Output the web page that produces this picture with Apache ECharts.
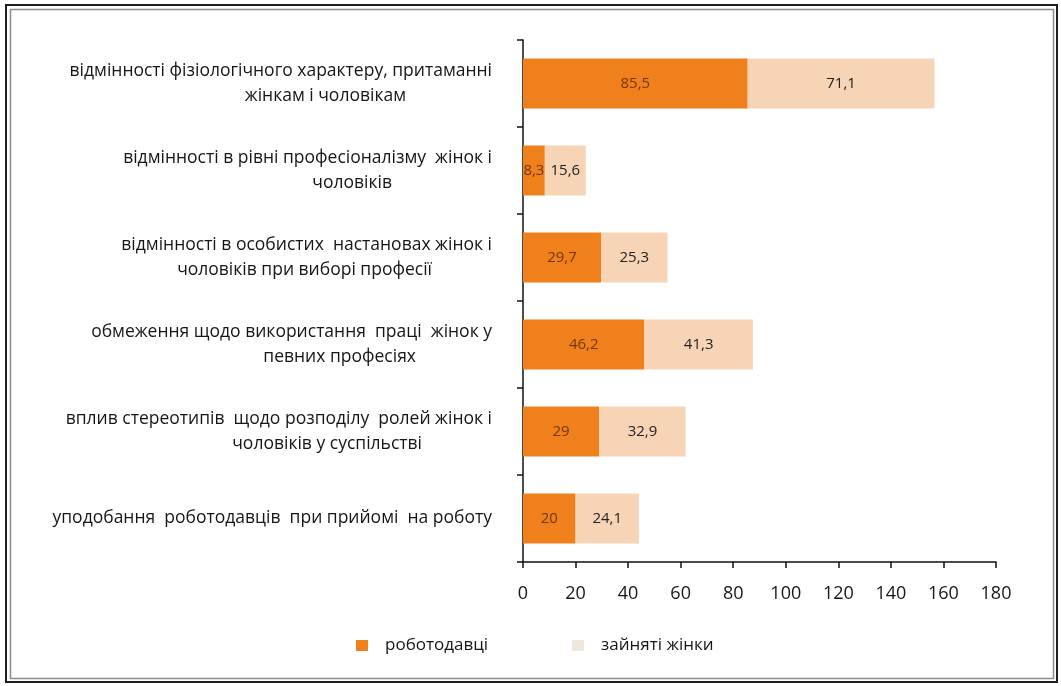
<!DOCTYPE html>
<html>
<head>
<meta charset="utf-8">
<script src="https://cdn.jsdelivr.net/npm/echarts@6/dist/echarts.min.js"></script>
<style>
  html, body { margin: 0; padding: 0; background: #fff; }
  #chart { width: 1061px; height: 686px; }
</style>
</head>
<body>
<div id="chart"></div>
<script>
// Причини гендерної сегрегації: оцінки роботодавців і зайнятих жінок
const categories = [
  'відмінності фізіологічного характеру, притаманні\nжінкам і чоловікам',
  'відмінності в рівні професіоналізму  жінок і\nчоловіків',
  'відмінності в особистих  настановах жінок і\nчоловіків при виборі професії',
  'обмеження щодо використання  праці  жінок у\nпевних професіях',
  'вплив стереотипів  щодо розподілу  ролей жінок і\nчоловіків у суспільстві',
  'уподобання  роботодавців  при прийомі  на роботу'
];
const employers = [85.5, 8.3, 29.7, 46.2, 29, 20];
const women = [71.1, 15.6, 25.3, 41.3, 32.9, 24.1];
const seriesNames = ['роботодавці', 'зайняті жінки'];
const xTicks = { min: 0, max: 180, step: 20 };

const FONT = '"Open Sans", "Noto Sans", sans-serif';
const TEXT = '#161616';
const ORANGE = '#f0801c';
const PEACH = '#f8d4b6';

// right-side indent of the second line of each category label
const secondLinePad = [86, 100, 60, 76, 70, 0];

const rich = {
  l1: { fontFamily: FONT, fontSize: 17.5, color: TEXT, lineHeight: 25 }
};
secondLinePad.forEach((p, i) => {
  rich['l2_' + i] = { fontFamily: FONT, fontSize: 17.5, color: TEXT, lineHeight: 25, padding: [0, p, 0, 0] };
});

const fmt = v => String(v).replace('.', ',');

const chart = echarts.init(document.getElementById('chart'), null, { renderer: 'canvas' });

chart.setOption({
  backgroundColor: '#ffffff',
  animation: false,
  graphic: [
    { type: 'rect', silent: true, shape: { x: 6, y: 5, width: 1051, height: 677 },
      style: { fill: 'none', stroke: '#1e1e1e', lineWidth: 2 } },
    { type: 'rect', silent: true, shape: { x: 10.5, y: 9.5, width: 1043, height: 669 },
      style: { fill: 'none', stroke: '#8c8c8c', lineWidth: 1.5 } }
  ],
  grid: { left: 523, right: 65, top: 40, bottom: 124, containLabel: false },
  legend: {
    left: 351,
    top: 632,
    itemWidth: 12,
    itemHeight: 11,
    itemGap: 84,
    icon: 'rect',
    textStyle: { fontFamily: FONT, fontSize: 17, color: TEXT, padding: [0, 0, 0, 12] },
    data: [
      { name: seriesNames[0], itemStyle: { color: ORANGE } },
      { name: seriesNames[1], itemStyle: { color: '#efe6de' } }
    ]
  },
  xAxis: {
    type: 'value',
    min: xTicks.min,
    max: xTicks.max,
    interval: xTicks.step,
    splitLine: { show: false },
    axisLine: { show: true, lineStyle: { color: '#111', width: 1.5 } },
    axisTick: { show: true, length: 6, lineStyle: { color: '#111', width: 1.5 } },
    axisLabel: { fontFamily: FONT, fontSize: 18, color: TEXT, margin: 23 }
  },
  yAxis: {
    type: 'category',
    inverse: true,
    data: categories,
    axisLine: { show: true, lineStyle: { color: '#111', width: 1.5 } },
    axisTick: { show: true, length: 6, lineStyle: { color: '#111', width: 1.5 } },
    axisLabel: {
      margin: 31,
      align: 'right',
      rich: rich,
      formatter: (value, index) => {
        const lines = value.split('\n');
        let out = '{l1|' + lines[0] + '}';
        if (lines[1]) out += '\n{l2_' + index + '|' + lines[1] + '}';
        return out;
      }
    }
  },
  series: [
    {
      name: seriesNames[0],
      type: 'bar',
      stack: 'total',
      barWidth: 50,
      data: employers,
      itemStyle: { color: ORANGE },
      label: {
        show: true,
        position: 'inside',
        fontFamily: FONT,
        fontSize: 15,
        color: '#733609',
        formatter: p => fmt(p.value)
      }
    },
    {
      name: seriesNames[1],
      type: 'bar',
      stack: 'total',
      barWidth: 50,
      data: women,
      itemStyle: { color: PEACH },
      label: {
        show: true,
        position: 'inside',
        fontFamily: FONT,
        fontSize: 15,
        color: '#222',
        formatter: p => fmt(p.value)
      }
    }
  ]
});
</script>
</body>
</html>
